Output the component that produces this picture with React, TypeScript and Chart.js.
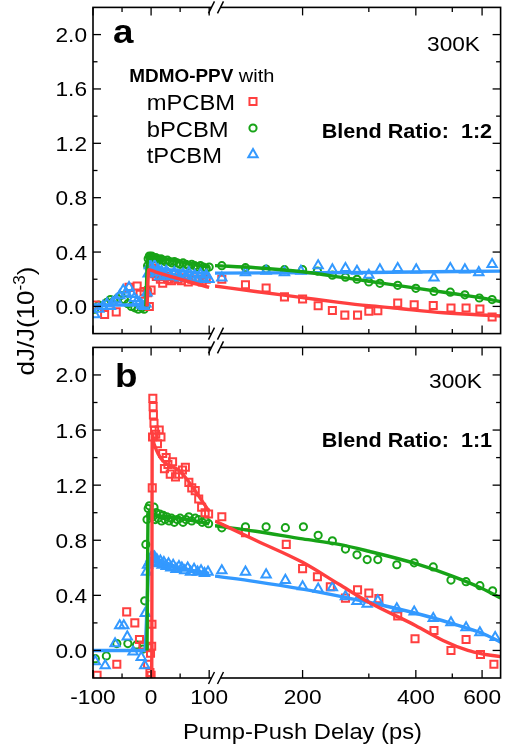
import React, { useEffect, useRef } from "react";
import { Chart, registerables } from "chart.js";
Chart.register(...registerables);

type Pt = [number, number];

// ---------- labels / ticks ----------
const SERIES = ["mPCBM", "bPCBM", "tPCBM"];
const COLORS = ["#ff3f3f", "#17a317", "#3399ff"];
const STYLES = ["rect", "circle", "triangle"];
const RADII = [5, 3.6, 5.4];
const Y_MAJOR = [0, 0.4, 0.8, 1.2, 1.6, 2.0];
const Y_MINOR = [0.2, 0.6, 1.0, 1.4, 1.8];
const X_LEFT_MAJOR = [-100, 0, 100];
const X_LEFT_MINOR = [-50, 50];
const X_RIGHT_MAJOR = [200, 400, 600];
const X_RIGHT_MINOR = [300, 500];

// ---------- Panel a (blend ratio 1:2) ----------
const A_M_LEFT: Pt[] = [[-96,0.01],[-80,-0.06],[-60,-0.04],[-38,0.14],[-24,0.15],[-19,0.09],[-12,0.11],[-6,0.1],[-3,0.0],[0,0.12],[2,0.27],[4,0.28],[6,0.24],[9,0.22],[12,0.25],[16,0.2],[20,0.17],[25,0.22],[30,0.2],[35,0.19],[40,0.21],[46,0.2],[52,0.19],[58,0.21],[64,0.18],[70,0.2],[76,0.19],[82,0.2],[88,0.18],[95,0.2]];
const A_M_RIGHT: Pt[] = [[122,0.2],[141,0.16],[160,0.135],[179,0.07],[200,0.055],[220,0.005],[240,-0.03],[259,-0.064],[280,-0.064],[300,-0.036],[317,-0.031],[358,0.024],[396,0.012],[445,0.007],[496,-0.011],[544,-0.011],[592,-0.019],[638,-0.078]];
const A_B_LEFT: Pt[] = [[-97,-0.02],[-90,0.01],[-83,0.0],[-76,0.03],[-70,0.05],[-64,0.04],[-58,0.06],[-52,0.08],[-46,0.05],[-40,0.02],[-34,0.0],[-28,-0.01],[-22,-0.02],[-16,-0.01],[-12,-0.02],[-9,0.0],[-7,0.12],[-6,0.3],[-5,0.35],[-3,0.37],[-1,0.36],[1,0.37],[3,0.36],[5,0.35],[8,0.36],[11,0.35],[14,0.34],[17,0.35],[20,0.34],[24,0.33],[28,0.34],[32,0.33],[36,0.32],[40,0.33],[45,0.32],[50,0.31],[55,0.32],[60,0.31],[65,0.3],[70,0.31],[75,0.3],[80,0.29],[85,0.3],[90,0.29],[95,0.28],[100,0.29]];
const A_B_RIGHT: Pt[] = [[122,0.3],[141,0.285],[160,0.275],[179,0.27],[200,0.27],[219,0.26],[240,0.23],[260,0.215],[279,0.2],[300,0.18],[321,0.17],[358,0.155],[400,0.133],[447,0.11],[494,0.105],[540,0.085],[590,0.062],[638,0.05]];
const A_T_LEFT: Pt[] = [[-97,-0.06],[-90,-0.02],[-83,0.0],[-76,0.02],[-70,0.0],[-66,0.03],[-60,0.05],[-54,0.08],[-48,0.12],[-43,0.1],[-38,0.14],[-33,0.09],[-29,0.06],[-24,0.04],[-20,0.03],[-16,0.01],[-12,0.0],[-9,0.02],[-7,0.1],[-5,0.24],[-3,0.3],[0,0.29],[3,0.27],[6,0.3],[9,0.25],[12,0.27],[15,0.22],[18,0.26],[22,0.23],[26,0.26],[30,0.24],[35,0.22],[40,0.25],[45,0.23],[50,0.21],[55,0.24],[60,0.22],[65,0.25],[70,0.21],[75,0.23],[80,0.2],[85,0.24],[90,0.21],[95,0.23],[100,0.2]];
const A_T_RIGHT: Pt[] = [[122,0.21],[141,0.25],[160,0.26],[179,0.25],[198,0.26],[220,0.3],[240,0.27],[260,0.28],[279,0.26],[300,0.23],[321,0.27],[358,0.28],[401,0.27],[447,0.21],[494,0.28],[540,0.27],[588,0.25],[638,0.31]];
const A_M_FIT_LEFT: Pt[] = [[-7,0],[-4,0.27],[10,0.25],[100,0.14]];
const A_M_FIT_RIGHT: Pt[] = [[117,0.15],[150,0.11],[200,0.065],[250,0.03],[300,0.005],[350,-0.012],[474,-0.047],[672,-0.07]];
const A_B_FIT_LEFT: Pt[] = [[-9,0],[-6,0.35],[0,0.355],[100,0.29]];
const A_B_FIT_RIGHT: Pt[] = [[117,0.3],[150,0.285],[200,0.255],[260,0.21],[300,0.185],[400,0.135],[500,0.095],[600,0.062],[672,0.035]];
const A_T_FIT_LEFT: Pt[] = [[-100,0.01],[-10,0.01],[-5,0.27],[0,0.275],[100,0.24]];
const A_T_FIT_RIGHT: Pt[] = [[117,0.245],[300,0.25],[672,0.26]];

// ---------- Panel b (blend ratio 1:1) ----------
const B_M_LEFT: Pt[] = [[-93,-0.18],[-59,-0.1],[-42,0.28],[-28,0.2],[-20,0.08],[-14,0.04],[-6,-0.1],[-4,0.02],[-2,-0.16],[-1,-0.02],[0,-0.18],[1,0.03],[1.5,0.19],[2,1.18],[2.5,1.55],[3,1.83],[3.5,1.77],[4,1.71],[5,1.65],[6,1.6],[8,1.57],[11,1.5],[14,1.6],[17,1.55],[20,1.43],[23,1.32],[26,1.4],[29,1.35],[33,1.28],[37,1.37],[42,1.26],[48,1.28],[54,1.31],[59,1.33],[65,1.22],[70,1.18],[76,1.16],[82,1.1],[87,1.04],[93,1.0],[99,0.99]];
const B_M_RIGHT: Pt[] = [[122,0.97],[141,0.855],[181,0.77],[200,0.594],[219,0.535],[237,0.463],[260,0.38],[280,0.44],[300,0.416],[319,0.376],[358,0.25],[398,0.085],[447,0.145],[496,0.0],[544,0.08],[594,-0.03],[645,-0.1]];
const B_B_LEFT: Pt[] = [[-96,-0.06],[-77,-0.04],[-59,0.05],[-40,0.05],[-25,0.04],[-14,0.01],[-11,0.36],[-9,0.77],[-7,0.95],[-5,1.03],[-3,1.05],[-1,0.98],[1,1.0],[3,0.97],[5,1.04],[7,0.95],[9,1.0],[12,0.96],[15,0.99],[18,0.94],[21,0.98],[24,0.95],[27,0.97],[31,0.94],[35,0.96],[40,0.93],[45,0.95],[50,0.96],[55,0.93],[60,0.95],[65,0.97],[70,0.94],[76,0.96],[82,0.95],[88,0.93],[94,0.94],[99,0.92]];
const B_B_RIGHT: Pt[] = [[122,0.89],[141,0.898],[160,0.898],[180,0.891],[201,0.898],[220,0.836],[240,0.796],[260,0.736],[279,0.694],[297,0.66],[317,0.66],[356,0.622],[396,0.636],[445,0.606],[496,0.511],[544,0.499],[592,0.47],[640,0.433]];
const B_T_LEFT: Pt[] = [[-96,-0.08],[-79,-0.11],[-62,0.05],[-54,0.18],[-47,0.18],[-41,0.1],[-31,-0.01],[-17,-0.05],[-11,-0.11],[-10,0.27],[-8,0.57],[-6,0.62],[-3,0.64],[0,0.67],[2,0.69],[4,0.66],[6,0.68],[8,0.64],[10,0.66],[13,0.63],[16,0.65],[19,0.62],[22,0.64],[26,0.61],[30,0.63],[34,0.6],[38,0.62],[43,0.59],[48,0.61],[53,0.6],[58,0.58],[63,0.6],[68,0.57],[74,0.59],[80,0.57],[86,0.58],[92,0.56],[98,0.57]];
const B_T_RIGHT: Pt[] = [[122,0.58],[141,0.57],[160,0.55],[180,0.51],[200,0.463],[220,0.446],[240,0.456],[260,0.392],[279,0.356],[297,0.337],[317,0.361],[356,0.304],[396,0.28],[445,0.233],[496,0.202],[544,0.166],[592,0.13],[650,0.095]];
const B_M_FIT_LEFT: Pt[] = [[-1.5,-0.3],[1,-0.3],[2,1.58],[5,1.5],[50,1.3],[100,1.01]];
const B_M_FIT_RIGHT: Pt[] = [[117,0.94],[150,0.8],[200,0.64],[250,0.48],[300,0.35],[400,0.18],[474,0.071],[550,0.0],[600,-0.025],[672,-0.045]];
const B_B_FIT_LEFT: Pt[] = [[-7,0],[-5,1.0],[0,0.99],[50,0.96],[100,0.92]];
const B_B_FIT_RIGHT: Pt[] = [[117,0.905],[150,0.865],[200,0.81],[250,0.77],[300,0.72],[400,0.63],[500,0.54],[600,0.45],[672,0.38]];
const B_T_FIT_LEFT: Pt[] = [[-100,0],[-11,0],[-3,0.66],[0,0.665],[50,0.6],[100,0.56]];
const B_T_FIT_RIGHT: Pt[] = [[117,0.54],[150,0.5],[200,0.445],[260,0.385],[300,0.35],[400,0.27],[500,0.195],[600,0.125],[672,0.06]];

const FONT = '"Liberation Sans", Arial, Helvetica, sans-serif';
const SX = 1.08;

function drawText(ctx: CanvasRenderingContext2D, s: string, x: number, y: number, size: number, bold = false, align = "left") {
  ctx.save();
  ctx.font = `${bold ? "bold " : ""}${size}px ${FONT}`;
  ctx.textAlign = "left";
  ctx.textBaseline = "alphabetic";
  const w = ctx.measureText(s).width * SX;
  const x0 = align === "right" ? x - w : align === "center" ? x - w / 2 : x;
  ctx.translate(x0, y);
  ctx.scale(SX, 1);
  ctx.fillStyle = "#000";
  ctx.fillText(s, 0, 0);
  ctx.restore();
  return w;
}

function drawMarker(ctx: CanvasRenderingContext2D, i: number, x: number, y: number) {
  ctx.save();
  ctx.strokeStyle = COLORS[i];
  ctx.lineWidth = 2;
  ctx.beginPath();
  const r = RADII[i];
  if (STYLES[i] === "rect") {
    const s = Math.SQRT1_2 * r;
    ctx.rect(x - s, y - s, 2 * s, 2 * s);
  } else if (STYLES[i] === "circle") {
    ctx.arc(x, y, r, 0, Math.PI * 2);
  } else {
    for (let k = 0; k < 3; k++) {
      const a = (k * 2 * Math.PI) / 3;
      const px = x + Math.sin(a) * r, py = y - Math.cos(a) * r;
      if (k === 0) ctx.moveTo(px, py); else ctx.lineTo(px, py);
    }
    ctx.closePath();
  }
  ctx.stroke();
  ctx.restore();
}

type Cfg = { pageTop: number; label: string; ratio: string; legend: boolean; xLabels: boolean };

function decoPlugin(cfg: Cfg) {
  return {
    id: "deco",
    afterDatasetsDraw(chart: any) {
      const ctx: CanvasRenderingContext2D = chart.ctx;
      const { left, right, top, bottom } = chart.chartArea;
      const ys = chart.scales.y, xl = chart.scales.xl, xr = chart.scales.xr;
      const o = cfg.pageTop;
      const seg = (x1: number, y1: number, x2: number, y2: number) => {
        ctx.beginPath(); ctx.moveTo(x1, y1); ctx.lineTo(x2, y2); ctx.stroke();
      };
      ctx.save();
      ctx.strokeStyle = "#000";
      ctx.lineWidth = 1.6;
      ctx.strokeRect(left, top, right - left, bottom - top);
      ctx.lineWidth = 1.3;
      Y_MAJOR.forEach((v) => { const p = ys.getPixelForValue(v); seg(left, p, left + 8, p); seg(right, p, right - 8, p); });
      Y_MINOR.forEach((v) => { const p = ys.getPixelForValue(v); seg(left, p, left + 4.5, p); seg(right, p, right - 4.5, p); });
      const xt = (px: number, len: number) => { seg(px, bottom, px, bottom - len); seg(px, top, px, top + len); };
      X_LEFT_MAJOR.forEach((v) => xt(xl.getPixelForValue(v), 8));
      X_LEFT_MINOR.forEach((v) => xt(xl.getPixelForValue(v), 4.5));
      X_RIGHT_MAJOR.forEach((v) => xt(xr.getPixelForValue(v), 8));
      X_RIGHT_MINOR.forEach((v) => xt(xr.getPixelForValue(v), 4.5));
      // axis breaks
      const bx = (xl.right + xr.left) / 2 + 1;
      [top, bottom].forEach((yy: number) => {
        ctx.fillStyle = "#fff";
        ctx.fillRect(bx - 4.5, yy - 2, 9, 4);
        ctx.lineWidth = 1.5;
        seg(bx - 4.5 - 3, yy + 6, bx - 4.5 + 3, yy - 6);
        seg(bx + 4.5 - 3, yy + 6, bx + 4.5 + 3, yy - 6);
      });
      ctx.restore();

      // y tick labels
      Y_MAJOR.forEach((v) => { const p = ys.getPixelForValue(v); drawText(ctx, v.toFixed(1), 87, p + 7.5, 21, false, "right"); });

      // y title (drawn in page coordinates, split across canvases)
      ctx.save();
      ctx.translate(34, 321 - o);
      ctx.rotate(-Math.PI / 2);
      ctx.font = `24px ${FONT}`;
      const w1 = ctx.measureText("dJ/J(10").width * SX;
      ctx.font = `16px ${FONT}`;
      const w2 = ctx.measureText("-3").width * SX;
      ctx.font = `24px ${FONT}`;
      const w3 = ctx.measureText(")").width * SX;
      let x0 = -(w1 + w2 + w3) / 2;
      drawText(ctx, "dJ/J(10", x0, 0, 24); x0 += w1;
      drawText(ctx, "-3", x0, -9, 16); x0 += w2;
      drawText(ctx, ")", x0, 0, 24);
      ctx.restore();

      if (cfg.label === "a") {
        drawText(ctx, "a", 113, 43 - o, 34, true);
        drawText(ctx, "300K", 480, 50.5 - o, 21, false, "right");
        const wm = drawText(ctx, "MDMO-PPV", 129.3, 81.5 - o, 17.5, true);
        drawText(ctx, " with", 129.3 + wm, 81.5 - o, 18.5);
        const bases = [110, 136.5, 163];
        SERIES.forEach((s, i) => {
          drawText(ctx, s, 146.7, bases[i] - o, 22);
          drawMarker(ctx, i, 253, bases[i] - 8.5 - o);
        });
        drawText(ctx, "Blend Ratio:  " + cfg.ratio, 321.7, 138 - o, 20, true);
      } else {
        drawText(ctx, "b", 115, 387 - o, 34, true);
        drawText(ctx, "300K", 482, 388 - o, 21, false, "right");
        drawText(ctx, "Blend Ratio:  " + cfg.ratio, 321.7, 446.5 - o, 20, true);
      }
      if (cfg.xLabels) {
        X_LEFT_MAJOR.forEach((v) => drawText(ctx, String(v), xl.getPixelForValue(v), 704 - o, 21, false, "center"));
        X_RIGHT_MAJOR.forEach((v) => drawText(ctx, String(v), xr.getPixelForValue(v), 704 - o, 21, false, "center"));
        drawText(ctx, "Pump-Push Delay (ps)", 302.5, 739 - o, 22, false, "center");
      }
    },
  };
}

const toXY = (a: Pt[]) => a.map(([x, y]) => ({ x, y }));

function fitDs(d: Pt[], axis: string, i: number) {
  return {
    data: toXY(d), xAxisID: axis, yAxisID: "y", showLine: true, borderColor: COLORS[i],
    borderWidth: 3.4, pointRadius: 0, fill: false, cubicInterpolationMode: "monotone",
  };
}
function markDs(d: Pt[], axis: string, i: number) {
  return {
    data: toXY(d), xAxisID: axis, yAxisID: "y", showLine: false, borderColor: COLORS[i],
    pointBorderColor: COLORS[i], backgroundColor: "rgba(255,255,255,0)", pointBackgroundColor: "rgba(255,255,255,0)",
    pointStyle: STYLES[i], pointRadius: RADII[i], pointBorderWidth: 2,
  };
}

function buildDatasets(fitL: Pt[][], fitR: Pt[][], mL: Pt[][], mR: Pt[][]) {
  const ds: any[] = [];
  [0, 1, 2].forEach((i) => { ds.push(fitDs(fitL[i], "xl", i), fitDs(fitR[i], "xr", i)); });
  [2, 0, 1].forEach((i) => { ds.push(markDs(mL[i], "xl", i), markDs(mR[i], "xr", i)); });
  return ds;
}

function Panel(props: { top: number; height: number; padding: any; datasets: any[]; cfg: Cfg }) {
  const ref = useRef<HTMLCanvasElement>(null);
  useEffect(() => {
    const chart = new Chart(ref.current as HTMLCanvasElement, {
      type: "scatter",
      data: { datasets: props.datasets },
      options: {
        animation: false,
        responsive: false,
        devicePixelRatio: 1,
        layout: { padding: props.padding },
        plugins: { legend: { display: false }, tooltip: { enabled: false } },
        scales: {
          xl: { type: "linear", position: "bottom", stack: "x", stackWeight: 123.9, min: -100, max: 110, display: false },
          xr: { type: "logarithmic", position: "bottom", stack: "x", stackWeight: 290.1, min: 117, max: 672, display: false },
          y: { type: "linear", position: "left", min: -0.2, max: 2.2, display: false },
        },
      } as any,
      plugins: [decoPlugin(props.cfg)],
    });
    return () => chart.destroy();
  }, []);
  return (
    <canvas ref={ref} width={508} height={props.height}
      style={{ position: "absolute", left: 0, top: props.top, width: 508, height: props.height }} />
  );
}

export default function App() {
  const dsA = buildDatasets(
    [A_M_FIT_LEFT, A_B_FIT_LEFT, A_T_FIT_LEFT], [A_M_FIT_RIGHT, A_B_FIT_RIGHT, A_T_FIT_RIGHT],
    [A_M_LEFT, A_B_LEFT, A_T_LEFT], [A_M_RIGHT, A_B_RIGHT, A_T_RIGHT]);
  const dsB = buildDatasets(
    [B_M_FIT_LEFT, B_B_FIT_LEFT, B_T_FIT_LEFT], [B_M_FIT_RIGHT, B_B_FIT_RIGHT, B_T_FIT_RIGHT],
    [B_M_LEFT, B_B_LEFT, B_T_LEFT], [B_M_RIGHT, B_B_RIGHT, B_T_RIGHT]);
  return (
    <div style={{ position: "fixed", left: 0, top: 0, width: 508, height: 751, background: "#fff", overflow: "hidden" }}>
      <Panel top={0} height={341} padding={{ left: 93, right: 1, top: 3, bottom: 1 }} datasets={dsA}
        cfg={{ pageTop: 0, label: "a", ratio: "1:2", legend: true, xLabels: false }} />
      <Panel top={340} height={411} padding={{ left: 93, right: 1, top: 1, bottom: 73 }} datasets={dsB}
        cfg={{ pageTop: 340, label: "b", ratio: "1:1", legend: false, xLabels: true }} />
    </div>
  );
}
